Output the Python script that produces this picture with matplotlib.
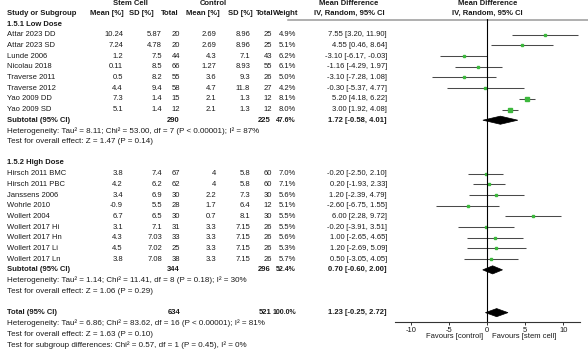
import matplotlib.pyplot as plt
from matplotlib.patches import Polygon

plt.rcParams['font.family'] = ['Liberation Sans', 'DejaVu Sans']
plt.rcParams['axes.unicode_minus'] = False

# ---- data ----
low_names = ["Attar 2023 DD", "Attar 2023 SD", "Lunde 2006", "Nicolau 2018",
             "Traverse 2011", "Traverse 2012", "Yao 2009 DD", "Yao 2009 SD"]
low_sc_mean = [10.24, 7.24, 1.2, 0.11, 0.5, 4.4, 7.3, 5.1]
low_sc_sd = [5.87, 4.78, 7.5, 8.5, 8.2, 9.4, 1.4, 1.4]
low_sc_n = [20, 20, 44, 66, 55, 58, 15, 12]
low_ct_mean = [2.69, 2.69, 4.3, 1.27, 3.6, 4.7, 2.1, 2.1]
low_ct_sd = [8.96, 8.96, 7.1, 8.93, 9.3, 11.8, 1.3, 1.3]
low_ct_n = [25, 25, 43, 55, 26, 27, 12, 12]
low_weight = [4.9, 5.1, 6.2, 6.1, 5.0, 4.2, 8.1, 8.0]
low_md = [7.55, 4.55, -3.10, -1.16, -3.10, -0.30, 5.20, 3.00]
low_lo = [3.20, 0.46, -6.17, -4.29, -7.28, -5.37, 4.18, 1.92]
low_hi = [11.90, 8.64, -0.03, 1.97, 1.08, 4.77, 6.22, 4.08]

high_names = ["Hirsch 2011 BMC", "Hirsch 2011 PBC", "Janssens 2006", "Wohrle 2010",
              "Wollert 2004", "Wollert 2017 Hi", "Wollert 2017 Hn", "Wollert 2017 Li",
              "Wollert 2017 Ln"]
high_sc_mean = [3.8, 4.2, 3.4, -0.9, 6.7, 3.1, 4.3, 4.5, 3.8]
high_sc_sd = [7.4, 6.2, 6.9, 5.5, 6.5, 7.1, 7.03, 7.02, 7.08]
high_sc_n = [67, 62, 30, 28, 30, 31, 33, 25, 38]
high_ct_mean = [4, 4, 2.2, 1.7, 0.7, 3.3, 3.3, 3.3, 3.3]
high_ct_sd = [5.8, 5.8, 7.3, 6.4, 8.1, 7.15, 7.15, 7.15, 7.15]
high_ct_n = [60, 60, 30, 12, 30, 26, 26, 26, 26]
high_weight = [7.0, 7.1, 5.6, 5.1, 5.5, 5.5, 5.6, 5.3, 5.7]
high_md = [-0.20, 0.20, 1.20, -2.60, 6.00, -0.20, 1.00, 1.20, 0.50]
high_lo = [-2.50, -1.93, -2.39, -6.75, 2.28, -3.91, -2.65, -2.69, -3.05]
high_hi = [2.10, 2.33, 4.79, 1.55, 9.72, 3.51, 4.65, 5.09, 4.05]

# pooled: [n stem, n control, weight, md, lo, hi]
low_sub = [290, 225, 47.6, 1.72, -0.58, 4.01]
high_sub = [344, 296, 52.4, 0.70, -0.60, 2.00]
total = [634, 521, 100.0, 1.23, -0.25, 2.72]

low_het = "Heterogeneity: Tau² = 8.11; Chi² = 53.00, df = 7 (P < 0.00001); I² = 87%"
low_z = "Test for overall effect: Z = 1.47 (P = 0.14)"
high_het = "Heterogeneity: Tau² = 1.14; Chi² = 11.41, df = 8 (P = 0.18); I² = 30%"
high_z = "Test for overall effect: Z = 1.06 (P = 0.29)"
tot_het = "Heterogeneity: Tau² = 6.86; Chi² = 83.62, df = 16 (P < 0.00001); I² = 81%"
tot_z = "Test for overall effect: Z = 1.63 (P = 0.10)"
sub_diff = "Test for subgroup differences: Chi² = 0.57, df = 1 (P = 0.45), I² = 0%"

ticks = [-10, -5, 0, 5, 10]

# ---- layout ----
W, H = 588, 349
ROW0, PITCH = 24, 10.69
FS = 5.5
FS_STAT = 5.75
TXT = '#1a1a1a'
col_right = [123, 162, 180, 216, 250, 272, 296, 387]

fig = plt.figure(figsize=(W / 100, H / 100), dpi=100)
tab = fig.add_axes([0, 0, 1, 1])
tab.set_xlim(0, W)
tab.set_ylim(H, 0)
tab.axis('off')

top_px, bot_px, left_px, right_px = 19, 322, 395, 580
ax = fig.add_axes([left_px / W, 1 - bot_px / H, (right_px - left_px) / W, (bot_px - top_px) / H])
ax.patch.set_alpha(0)
ax.set_xlim(-12.15, 12.2)
ax.set_ylim((bot_px - ROW0) / PITCH, (top_px - ROW0) / PITCH)


def ypx(r):
    return ROW0 + PITCH * r


def put(x, r, s, ha='right', bold=False, fs=FS):
    tab.text(x, ypx(r), s, ha=ha, va='center', fontsize=fs, color=TXT,
             fontweight='bold' if bold else 'normal')


# headers
for x, s in [(130.5, "Stem Cell"), (213.5, "Control"), (349, "Mean Difference"),
             (487.5, "Mean Difference")]:
    tab.text(x, 3.5, s, ha='center', va='center', fontsize=FS, fontweight='bold', color=TXT)
for x, s, ha in [(7, "Study or Subgroup", 'left'), (106.5, "Mean [%]", 'center'),
                 (141.5, "SD [%]", 'center'), (170, "Total", 'center'),
                 (202.5, "Mean [%]", 'center'), (240, "SD [%]", 'center'),
                 (264.5, "Total", 'center'), (298, "Weight", 'right'),
                 (349.5, "IV, Random, 95% CI", 'center'), (487.5, "IV, Random, 95% CI", 'center')]:
    tab.text(x, 13.5, s, ha=ha, va='center', fontsize=FS, fontweight='bold', color=TXT)
tab.plot([288, W], [19.5, 19.5], color='#9a9a9a', lw=1.1)


def summary(r, label, s):
    put(7, r, label, ha='left', bold=True)
    put(col_right[2], r, f"{s[0]}", bold=True)
    put(col_right[5] - 1, r, f"{s[1]}", bold=True)
    put(col_right[6], r, f"{s[2]:.1f}%", bold=True, fs=5.0)
    put(col_right[7], r, f"{s[3]:.2f} [{s[4]:.2f}, {s[5]:.2f}]", bold=True)
    h = 0.38
    ax.add_patch(Polygon([[s[4], r], [s[3], r - h], [s[5], r], [s[3], r + h]],
                         closed=True, fc='black', ec='black', lw=0.5))


def group(start, title, names, sm, ssd, sn, cm, csd, cn, wt, md, lo, hi, sub, het, z):
    put(7, start, title, ha='left', bold=True)
    for i, nm in enumerate(names):
        r = start + 1 + i
        put(7, r, nm, ha='left')
        vals = [f"{sm[i]:g}", f"{ssd[i]:g}", f"{sn[i]}", f"{cm[i]:g}", f"{csd[i]:g}",
                f"{cn[i]}", f"{wt[i]:.1f}%", f"{md[i]:.2f} [{lo[i]:.2f}, {hi[i]:.2f}]"]
        for x, s in zip(col_right, vals):
            put(x, r, s)
        ax.plot([lo[i], hi[i]], [r, r], color='#4a4a4a', lw=0.75, solid_capstyle='butt')
        ax.plot(md[i], r, marker='s', ms=0.8 * wt[i] ** 0.5, color='#3cb83c', mec='#3cb83c')
    r = start + 1 + len(names)
    summary(r, "Subtotal (95% CI)", sub)
    put(7, r + 1, het, ha='left', fs=FS_STAT)
    put(7, r + 2, z, ha='left', fs=FS_STAT)


group(0, "1.5.1 Low Dose", low_names, low_sc_mean, low_sc_sd, low_sc_n, low_ct_mean,
      low_ct_sd, low_ct_n, low_weight, low_md, low_lo, low_hi, low_sub, low_het, low_z)
group(13, "1.5.2 High Dose", high_names, high_sc_mean, high_sc_sd, high_sc_n, high_ct_mean,
      high_ct_sd, high_ct_n, high_weight, high_md, high_lo, high_hi, high_sub, high_het, high_z)
summary(27, "Total (95% CI)", total)
put(7, 28, tot_het, ha='left', fs=FS_STAT)
put(7, 29, tot_z, ha='left', fs=FS_STAT)
put(7, 30, sub_diff, ha='left', fs=FS_STAT)

# forest axis
ax.axvline(0, color='black', lw=0.8)
for sp in ['top', 'left', 'right']:
    ax.spines[sp].set_visible(False)
ax.spines['bottom'].set_color('#333333')
ax.spines['bottom'].set_linewidth(0.8)
ax.set_yticks([])
ax.set_xticks(ticks)
ax.set_xticklabels([str(t) for t in ticks])
ax.tick_params(axis='x', direction='out', length=2.5, width=0.7, pad=0.8,
               labelsize=FS, labelcolor=TXT, color='#333333')
tab.text(483, 336.5, "Favours [control]", ha='right', va='center', fontsize=FS, color=TXT)
tab.text(492, 336.5, "Favours [stem cell]", ha='left', va='center', fontsize=FS, color=TXT)

fig.savefig("out.png", dpi=100)
